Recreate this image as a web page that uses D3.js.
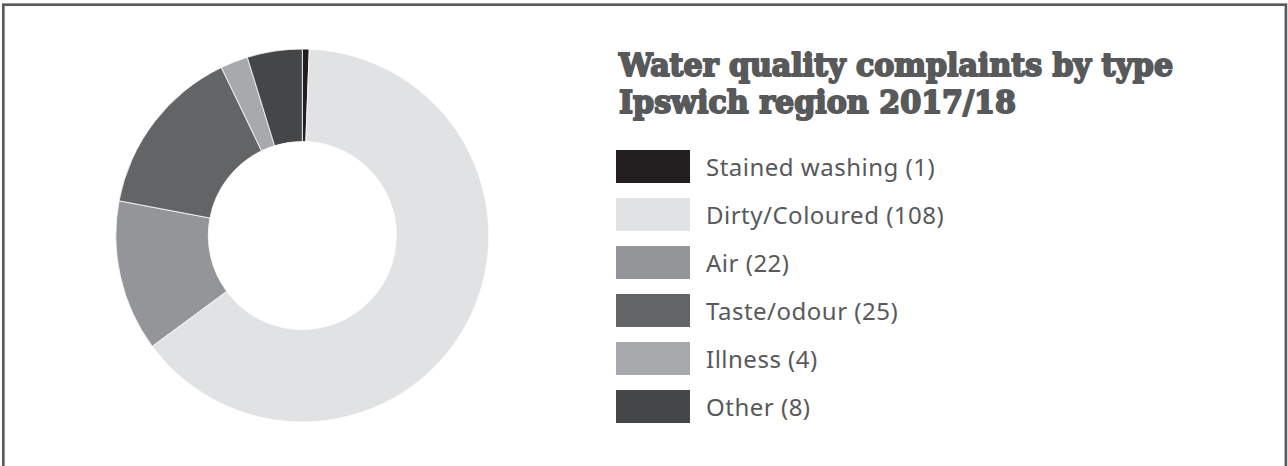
<!DOCTYPE html>
<html><head><meta charset="utf-8">
<script src="https://cdn.jsdelivr.net/npm/d3@7"></script>
<style>html,body{margin:0;padding:0;background:#fff;}svg{display:block;}</style>
</head><body>
<svg id="chart" width="1288" height="466"></svg>
<script>
const categories = ["Stained washing", "Dirty/Coloured", "Air", "Taste/odour", "Illness", "Other"];
const values = [1, 108, 22, 25, 4, 8];
const colors = ["#231f20", "#e1e2e3", "#939598", "#636466", "#a7a9ac", "#454648"];
const titleLines = ["Water quality complaints by type", "Ipswich region 2017/18"];

const svg = d3.select("#chart");
const textColor = "#58595b";

// frame
svg.append("rect").attr("x", 3.3).attr("y", 4.7).attr("width", 1282.6).attr("height", 480)
  .attr("fill", "none").attr("stroke", "#5a5b5d").attr("stroke-width", 2.7);

const data = categories.map((c, i) => ({cat: c, value: values[i]}));
const color = d3.scaleOrdinal().domain(categories).range(colors);
const pie = d3.pie().value(d => d.value).sort(null).startAngle(0).endAngle(2 * Math.PI);
const arc = d3.arc().innerRadius(94).outerRadius(186.5);

const g = svg.append("g").attr("transform", "translate(302.3,235.5)");
g.selectAll("path").data(pie(data)).join("path")
  .attr("d", arc)
  .attr("fill", d => color(d.data.cat))
  .attr("stroke", "#fff").attr("stroke-width", 0.8);

// title
const titleLens = [554, 397];
const title = svg.append("g");
titleLines.forEach((t, i) => {
  title.append("text")
    .attr("x", 619).attr("y", 76 + i * 37)
    .attr("fill", textColor)
    .attr("stroke", textColor).attr("stroke-width", 2).attr("stroke-linejoin", "round")
    .style("font-family", "'DejaVu Serif', serif")
    .style("font-weight", "bold")
    .style("font-size", "32px")
    .attr("textLength", titleLens[i]).attr("lengthAdjust", "spacingAndGlyphs")
    .text(t);
});

// legend
const legend = svg.append("g");
const rowY = d3.scaleBand().domain(categories).range([150, 150 + 48 * categories.length]).paddingInner(0);
const items = legend.selectAll("g").data(data).join("g")
  .attr("transform", d => `translate(616,${rowY(d.cat)})`);
items.append("rect").attr("width", 74).attr("height", 33).attr("fill", d => color(d.cat));
items.append("text").attr("x", 90).attr("y", 26)
  .attr("fill", textColor)
  .style("font-family", "'Noto Sans', 'Open Sans', sans-serif")
  .style("font-size", "24px")
  .style("letter-spacing", "0.5px")
  .text(d => `${d.cat} (${d.value})`);
</script>
</body></html>
